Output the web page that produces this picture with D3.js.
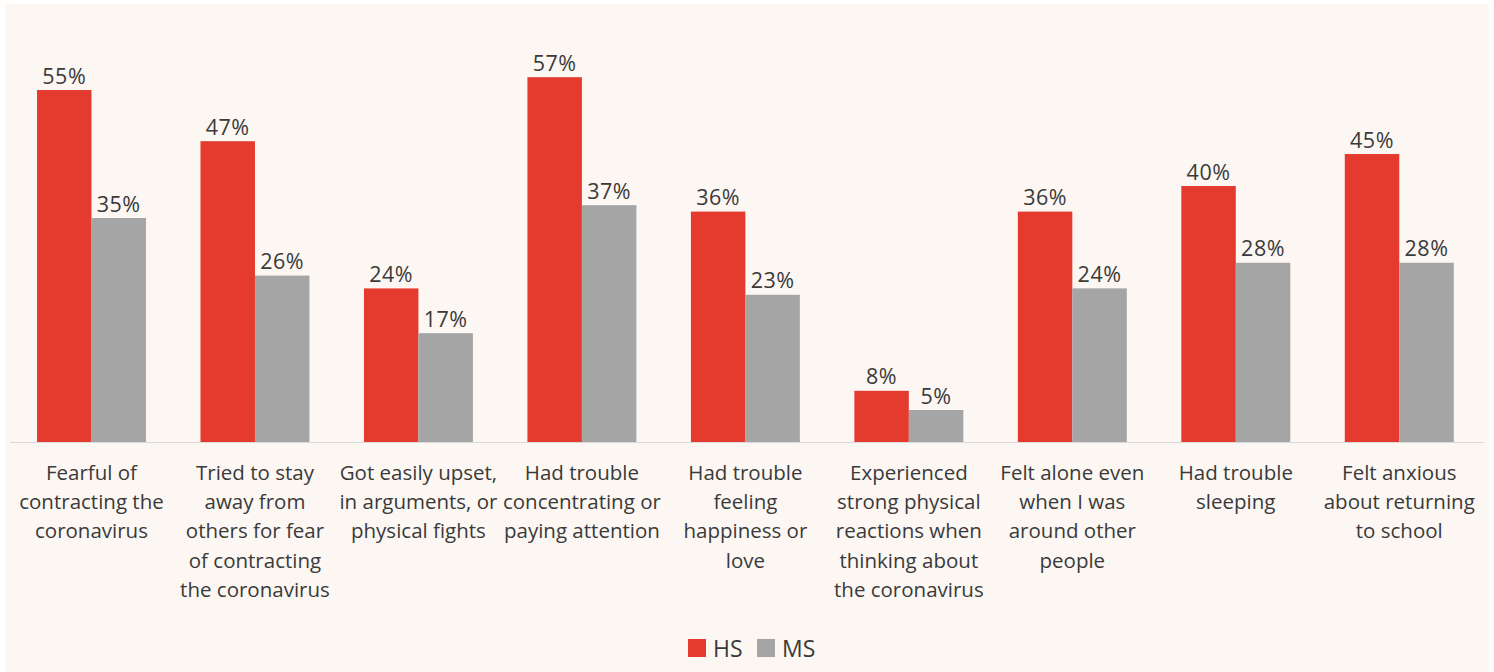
<!DOCTYPE html>
<html>
<head>
<meta charset="utf-8">
<script src="https://cdn.jsdelivr.net/npm/d3@7"></script>
<style>
  body { margin: 0; background: #fff; }
  svg { display: block; font-family: "Open Sans", Lato, sans-serif; }
</style>
</head>
<body>
<svg id="chart" width="1494" height="672"></svg>
<script>
var categories = [
  ["Fearful of", "contracting the", "coronavirus"],
  ["Tried to stay", "away from", "others for fear", "of contracting", "the coronavirus"],
  ["Got easily upset,", "in arguments, or", "physical fights"],
  ["Had trouble", "concentrating or", "paying attention"],
  ["Had trouble", "feeling", "happiness or", "love"],
  ["Experienced", "strong physical", "reactions when", "thinking about", "the coronavirus"],
  ["Felt alone even", "when I was", "around other", "people"],
  ["Had trouble", "sleeping"],
  ["Felt anxious", "about returning", "to school"]
];
var seriesNames = ["HS", "MS"];
var hsValues = [55, 47, 24, 57, 36, 8, 36, 40, 45];
var msValues = [35, 26, 17, 37, 23, 5, 24, 28, 28];
var colors = ["#e53b2e", "#a5a5a5"];

var svg = d3.select("#chart");

// panel background
svg.append("rect")
  .attr("x", 5).attr("y", 4)
  .attr("width", 1484).attr("height", 668)
  .attr("fill", "#fcf7f3");

var baseY = 442;

var x0 = d3.scaleBand()
  .domain(d3.range(categories.length))
  .range([9.75, 1481])
  .paddingInner(0.3334)
  .paddingOuter(0.1667);

var x1 = d3.scaleBand()
  .domain(seriesNames)
  .range([0, x0.bandwidth()]);

var y = d3.scaleLinear()
  .domain([0, 60])
  .range([baseY, 58]);

// baseline
svg.append("line")
  .attr("x1", 10).attr("x2", 1484)
  .attr("y1", baseY + 0.5).attr("y2", baseY + 0.5)
  .attr("stroke", "#d9d9d9")
  .attr("stroke-width", 1);

var rows = categories.map(function(c, i) {
  return [{s: "HS", v: hsValues[i]}, {s: "MS", v: msValues[i]}];
});

var group = svg.append("g").selectAll("g")
  .data(rows)
  .join("g")
  .attr("transform", function(d, i) { return "translate(" + x0(i) + ",0)"; });

group.selectAll("rect")
  .data(function(d) { return d; })
  .join("rect")
  .attr("x", function(d) { return x1(d.s); })
  .attr("y", function(d) { return y(d.v); })
  .attr("width", x1.bandwidth())
  .attr("height", function(d) { return baseY - y(d.v); })
  .attr("fill", function(d, i) { return colors[i]; });

group.selectAll("text.val")
  .data(function(d) { return d; })
  .join("text")
  .attr("class", "val")
  .attr("x", function(d) { return x1(d.s) + x1.bandwidth() / 2; })
  .attr("y", function(d) { return y(d.v) - 6.5; })
  .attr("text-anchor", "middle")
  .attr("font-size", 21.5)
  .attr("letter-spacing", 0.5)
  .attr("fill", "#3a3a3a")
  .text(function(d) { return d.v + "%"; });

// category labels
var labels = svg.append("g").selectAll("text")
  .data(categories)
  .join("text")
  .attr("text-anchor", "middle")
  .attr("font-size", 20.5)
  .attr("fill", "#3a3a3a")
  .attr("transform", function(d, i) {
    return "translate(" + (x0(i) + x0.bandwidth() / 2) + ",480)";
  });

labels.selectAll("tspan")
  .data(function(d) { return d; })
  .join("tspan")
  .attr("x", 0)
  .attr("y", function(d, i) { return i * 29.2; })
  .text(function(d) { return d; });

// legend
var legend = svg.append("g").attr("transform", "translate(688,639)");
var items = [{name: "HS", x: 0}, {name: "MS", x: 69}];
var li = legend.selectAll("g")
  .data(items)
  .join("g")
  .attr("transform", function(d) { return "translate(" + d.x + ",0)"; });
li.append("rect")
  .attr("width", 18).attr("height", 18)
  .attr("fill", function(d, i) { return colors[i]; });
li.append("text")
  .attr("x", 25).attr("y", 18)
  .attr("font-size", 23)
  .attr("fill", "#3a3a3a")
  .text(function(d) { return d.name; });
</script>
</body>
</html>
